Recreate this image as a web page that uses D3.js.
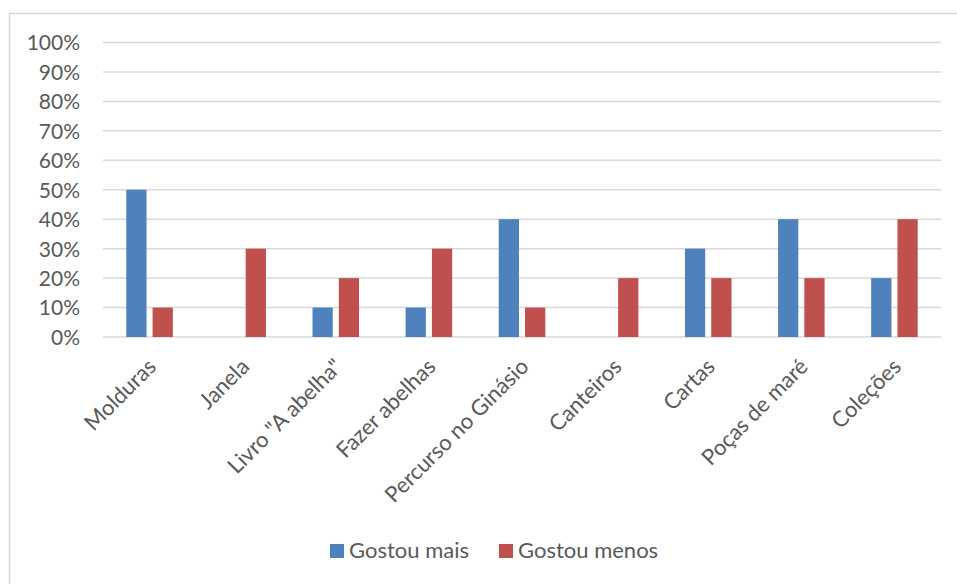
<!DOCTYPE html>
<html>
<head>
<meta charset="utf-8">
<script src="https://cdn.jsdelivr.net/npm/d3@7"></script>
<style>
  html, body { margin: 0; padding: 0; background: #fff; }
  svg { display: block; }
  text { font-family: Lato, "Open Sans", sans-serif; fill: #595959; }
</style>
</head>
<body>
<svg id="chart" width="957" height="584"></svg>
<script>
const categories = ["Molduras", "Janela", "Livro \"A abelha\"", "Fazer abelhas", "Percurso no Ginásio", "Canteiros", "Cartas", "Poças de maré", "Coleções"];
const seriesNames = ["Gostou mais", "Gostou menos"];
const gostouMais = [50, 0, 10, 10, 40, 0, 30, 40, 20];
const gostouMenos = [10, 30, 20, 30, 10, 20, 20, 20, 40];
const yTicks = [0, 10, 20, 30, 40, 50, 60, 70, 80, 90, 100];
const colors = ["#4F81BD", "#C0504D"];

const seriesValues = [gostouMais, gostouMenos];
const svg = d3.select("#chart");
const FONT = "Lato, 'Open Sans', sans-serif";

// chart border
svg.append("rect")
  .attr("x", 9.5).attr("y", 13.5)
  .attr("width", 1000).attr("height", 1000)
  .attr("fill", "none").attr("stroke", "#D9D9D9").attr("stroke-width", 1.5);

const plot = { left: 103, right: 941, top: 42.5, bottom: 337 };

const x0 = d3.scaleBand().domain(categories).range([plot.left, plot.right]).padding(0);
const bw = x0.bandwidth();
const x1 = d3.scaleBand().domain(seriesNames).range([bw * 0.25, bw * 0.75]).paddingInner(0.23);
const y = d3.scaleLinear().domain([0, 100]).range([plot.bottom, plot.top]);

// gridlines
svg.append("g").selectAll("line").data(yTicks).join("line")
  .attr("x1", plot.left).attr("x2", plot.right)
  .attr("y1", d => y(d)).attr("y2", d => y(d))
  .attr("stroke", "#D9D9D9").attr("stroke-width", 1.5);

// y axis labels
const yAxis = d3.axisLeft(y).tickValues(yTicks).tickFormat(d => d + "%").tickSize(0).tickPadding(0);
const gy = svg.append("g").attr("transform", "translate(80,0)").call(yAxis);
gy.select(".domain").remove();
gy.selectAll("text").attr("font-size", 21).attr("fill", "#595959")
  .style("font-family", FONT).attr("dy", "0.35em");

// bars
const groups = svg.append("g").selectAll("g").data(categories).join("g")
  .attr("transform", d => `translate(${x0(d)},0)`);
groups.selectAll("rect")
  .data((d, i) => seriesNames.map((s, j) => ({ s, j, v: seriesValues[j][i] })))
  .join("rect")
  .attr("x", d => x1(d.s))
  .attr("width", x1.bandwidth())
  .attr("y", d => y(d.v))
  .attr("height", d => y(0) - y(d.v))
  .attr("fill", d => colors[d.j]);

// x labels
const xAxis = d3.axisBottom(x0).tickSize(0).tickPadding(0);
const gx = svg.append("g").attr("transform", `translate(0,${plot.bottom})`).call(xAxis);
gx.select(".domain").remove();
gx.selectAll("text")
  .attr("font-size", 22).attr("fill", "#595959")
  .style("font-family", FONT)
  .attr("text-anchor", "end")
  .attr("dy", null).attr("y", 0)
  .attr("transform", "translate(8,31) rotate(-45)");

// legend
const legend = svg.append("g");
const legendX = [330, 499];
seriesNames.forEach((s, i) => {
  legend.append("rect").attr("x", legendX[i]).attr("y", 544)
    .attr("width", 14).attr("height", 14).attr("fill", colors[i]);
  legend.append("text").attr("x", legendX[i] + 19).attr("y", 558)
    .attr("font-size", 22).style("font-family", FONT).text(s);
});
</script>
</body>
</html>
